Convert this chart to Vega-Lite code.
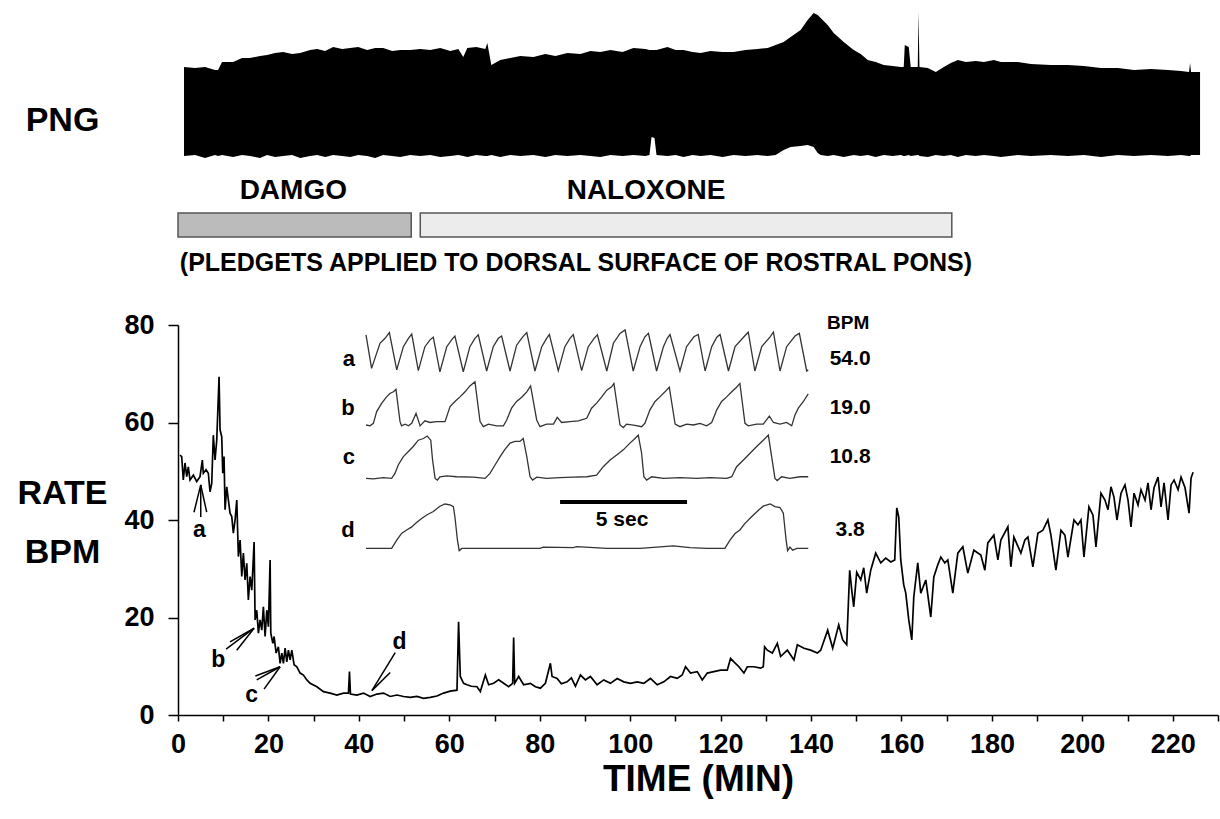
{
  "$schema": "https://vega.github.io/schema/vega-lite/v6.json",
  "padding": {"left": 16, "top": 10, "right": 2, "bottom": 2},
  "background": "white",
  "config": {
    "font": "Liberation Sans",
    "view": {"stroke": null},
    "axis": {"grid": false, "domainColor": "#000", "tickColor": "#000", "labelColor": "#000", "titleColor": "#000", "labelFont": "Liberation Sans", "titleFont": "Liberation Sans", "labelFontWeight": "bold", "titleFontWeight": "bold", "domainWidth": 1.5, "tickWidth": 1.5},
    "text": {"font": "Liberation Sans", "fontWeight": "bold", "color": "#000"}
  },
  "datasets": {
    "png": [
      {"t":1.33,"hi":9.3,"lo":0.4},{"t":3.76,"hi":9.2,"lo":0.5},{"t":5.98,"hi":9.3,"lo":0.2},{"t":8.19,"hi":9.0,"lo":0.5},{"t":8.86,"hi":9.0,"lo":0.4},{"t":9.74,"hi":9.8,"lo":0.5},{"t":12.18,"hi":9.8,"lo":0.3},{"t":14.17,"hi":10.2,"lo":0.5},{"t":15.94,"hi":10.2,"lo":0.4},{"t":18.15,"hi":10.4,"lo":0.2},{"t":19.70,"hi":10.5,"lo":0.5},{"t":21.47,"hi":10.7,"lo":0.3},{"t":23.24,"hi":10.8,"lo":0.4},{"t":25.24,"hi":10.6,"lo":0.5},{"t":27.01,"hi":10.7,"lo":0.2},{"t":29.22,"hi":11.0,"lo":0.4},{"t":30.77,"hi":11.1,"lo":0.5},{"t":32.54,"hi":10.9,"lo":0.3},{"t":34.31,"hi":11.3,"lo":0.5},{"t":36.31,"hi":11.1,"lo":0.4},{"t":38.08,"hi":11.2,"lo":0.3},{"t":39.85,"hi":11.3,"lo":0.5},{"t":41.84,"hi":11.0,"lo":0.4},{"t":43.61,"hi":11.2,"lo":0.2},{"t":45.38,"hi":11.2,"lo":0.5},{"t":47.38,"hi":10.9,"lo":0.4},{"t":49.15,"hi":11.0,"lo":0.3},{"t":51.36,"hi":11.0,"lo":0.5},{"t":53.58,"hi":11.1,"lo":0.4},{"t":55.79,"hi":11.0,"lo":0.5},{"t":58.00,"hi":11.2,"lo":0.3},{"t":60.22,"hi":10.9,"lo":0.4},{"t":61.99,"hi":11.1,"lo":0.5},{"t":63.09,"hi":10.3,"lo":0.4},{"t":63.98,"hi":11.2,"lo":0.3},{"t":65.97,"hi":11.3,"lo":0.5},{"t":67.97,"hi":11.1,"lo":0.4},{"t":68.41,"hi":11.7,"lo":0.4},{"t":69.29,"hi":9.5,"lo":0.5},{"t":71.29,"hi":10.0,"lo":0.3},{"t":73.50,"hi":10.2,"lo":0.5},{"t":75.71,"hi":10.4,"lo":0.4},{"t":78.59,"hi":10.3,"lo":0.5},{"t":81.25,"hi":10.6,"lo":0.3},{"t":83.46,"hi":10.4,"lo":0.5},{"t":86.12,"hi":10.7,"lo":0.4},{"t":89.00,"hi":10.6,"lo":0.5},{"t":91.21,"hi":10.9,"lo":0.4},{"t":93.42,"hi":10.8,"lo":0.3},{"t":95.64,"hi":11.0,"lo":0.5},{"t":98.30,"hi":10.8,"lo":0.4},{"t":100.73,"hi":11.2,"lo":0.5},{"t":103.39,"hi":11.1,"lo":0.4},{"t":104.27,"hi":11.0,"lo":0.5},{"t":104.72,"hi":11.0,"lo":2.3},{"t":105.38,"hi":11.0,"lo":2.2},{"t":105.82,"hi":11.0,"lo":0.5},{"t":108.26,"hi":11.3,"lo":0.4},{"t":110.03,"hi":11.0,"lo":0.5},{"t":111.80,"hi":11.0,"lo":0.3},{"t":113.79,"hi":10.8,"lo":0.5},{"t":115.56,"hi":10.7,"lo":0.4},{"t":117.78,"hi":10.9,"lo":0.5},{"t":120.43,"hi":10.8,"lo":0.3},{"t":122.87,"hi":10.8,"lo":0.5},{"t":125.53,"hi":11.0,"lo":0.4},{"t":128.18,"hi":11.1,"lo":0.5},{"t":130.40,"hi":11.2,"lo":0.4},{"t":132.17,"hi":11.5,"lo":0.5},{"t":133.94,"hi":11.8,"lo":1.0},{"t":135.49,"hi":12.3,"lo":1.3},{"t":137.70,"hi":13.0,"lo":1.4},{"t":139.25,"hi":14.0,"lo":1.5},{"t":140.58,"hi":14.7,"lo":1.3},{"t":141.47,"hi":14.5,"lo":0.7},{"t":142.13,"hi":14.2,"lo":0.5},{"t":143.68,"hi":13.5,"lo":0.4},{"t":145.01,"hi":12.7,"lo":0.5},{"t":147.22,"hi":11.8,"lo":0.3},{"t":149.44,"hi":11.0,"lo":0.5},{"t":150.99,"hi":10.6,"lo":0.4},{"t":152.54,"hi":10.0,"lo":0.5},{"t":154.30,"hi":9.8,"lo":0.3},{"t":156.08,"hi":9.5,"lo":0.5},{"t":158.07,"hi":9.4,"lo":0.4},{"t":159.84,"hi":9.3,"lo":0.5},{"t":160.50,"hi":9.3,"lo":0.4},{"t":160.73,"hi":11.5,"lo":0.4},{"t":161.61,"hi":11.3,"lo":0.5},{"t":162.05,"hi":9.3,"lo":0.4},{"t":163.60,"hi":9.3,"lo":0.5},{"t":163.76,"hi":14.8,"lo":0.5},{"t":163.98,"hi":9.3,"lo":0.4},{"t":165.82,"hi":9.2,"lo":0.3},{"t":167.59,"hi":8.8,"lo":0.5},{"t":169.36,"hi":9.3,"lo":0.4},{"t":170.91,"hi":9.7,"lo":0.5},{"t":172.46,"hi":10.0,"lo":0.3},{"t":174.23,"hi":9.8,"lo":0.5},{"t":176.45,"hi":9.9,"lo":0.4},{"t":178.22,"hi":9.8,"lo":0.5},{"t":180.43,"hi":10.0,"lo":0.4},{"t":181.98,"hi":9.8,"lo":0.3},{"t":185.74,"hi":9.8,"lo":0.5},{"t":188.62,"hi":9.6,"lo":0.4},{"t":193.05,"hi":9.5,"lo":0.5},{"t":196.81,"hi":9.5,"lo":0.4},{"t":200.35,"hi":9.4,"lo":0.5},{"t":204.12,"hi":9.2,"lo":0.3},{"t":207.88,"hi":9.2,"lo":0.5},{"t":211.42,"hi":9.0,"lo":0.4},{"t":215.19,"hi":9.1,"lo":0.5},{"t":218.95,"hi":9.0,"lo":0.4},{"t":221.83,"hi":8.9,"lo":0.5},{"t":223.60,"hi":8.8,"lo":0.4},{"t":223.82,"hi":9.7,"lo":0.4},{"t":224.04,"hi":8.8,"lo":0.5},{"t":226.03,"hi":8.8,"lo":0.5}
    ],
    "agents": [
      {"agent":"DAMGO","start":0,"end":51.58},
      {"agent":"NALOXONE","start":53.58,"end":171.13}
    ],
    "agentLabels": [
      {"text":"DAMGO","t":25.5},
      {"text":"NALOXONE","t":103.5}
    ],
    "note": [
      {"text":"(PLEDGETS APPLIED TO DORSAL SURFACE OF ROSTRAL PONS)","t":88.0}
    ],
    "rate": [
      {"t":0.44,"r":53.3},{"t":0.82,"r":53.0},{"t":1.17,"r":48.2},{"t":1.55,"r":51.7},{"t":1.93,"r":48.9},{"t":2.28,"r":50.9},{"t":2.66,"r":48.2},{"t":3.39,"r":49.2},{"t":4.14,"r":47.9},{"t":4.87,"r":48.9},{"t":5.38,"r":52.3},{"t":5.60,"r":49.6},{"t":6.20,"r":50.3},{"t":6.71,"r":49.6},{"t":7.08,"r":45.8},{"t":7.46,"r":47.5},{"t":7.81,"r":57.4},{"t":8.19,"r":52.3},{"t":8.57,"r":56.4},{"t":9.08,"r":69.4},{"t":9.30,"r":58.5},{"t":9.67,"r":57.1},{"t":9.90,"r":49.6},{"t":10.18,"r":53.0},{"t":10.41,"r":42.1},{"t":10.78,"r":46.8},{"t":11.14,"r":44.1},{"t":11.51,"r":41.4},{"t":11.89,"r":40.7},{"t":12.24,"r":37.3},{"t":12.62,"r":40.0},{"t":13.00,"r":44.1},{"t":13.35,"r":32.5},{"t":13.73,"r":35.9},{"t":14.10,"r":28.4},{"t":14.46,"r":33.2},{"t":14.83,"r":27.7},{"t":15.21,"r":31.1},{"t":15.56,"r":23.6},{"t":15.94,"r":28.4},{"t":16.32,"r":25.6},{"t":16.83,"r":35.5},{"t":17.05,"r":19.5},{"t":17.42,"r":21.5},{"t":17.78,"r":16.8},{"t":18.15,"r":19.5},{"t":18.53,"r":17.4},{"t":18.88,"r":22.2},{"t":19.26,"r":16.1},{"t":19.64,"r":21.5},{"t":19.99,"r":18.1},{"t":20.37,"r":31.8},{"t":20.52,"r":16.8},{"t":20.97,"r":14.7},{"t":21.25,"r":16.1},{"t":21.70,"r":12.7},{"t":22.20,"r":14.0},{"t":22.58,"r":10.6},{"t":22.96,"r":12.7},{"t":23.31,"r":10.6},{"t":23.69,"r":13.7},{"t":24.06,"r":10.9},{"t":24.42,"r":13.3},{"t":24.80,"r":11.3},{"t":25.17,"r":13.3},{"t":25.68,"r":10.3},{"t":26.28,"r":9.9},{"t":27.01,"r":8.6},{"t":27.74,"r":8.2},{"t":28.49,"r":7.2},{"t":29.22,"r":6.5},{"t":30.71,"r":5.8},{"t":32.17,"r":4.8},{"t":33.65,"r":4.5},{"t":35.13,"r":4.1},{"t":36.60,"r":4.5},{"t":37.70,"r":4.5},{"t":37.92,"r":8.9},{"t":38.14,"r":4.3},{"t":39.56,"r":4.1},{"t":41.02,"r":4.5},{"t":42.51,"r":3.8},{"t":43.99,"r":4.3},{"t":45.45,"r":4.5},{"t":46.93,"r":3.8},{"t":48.42,"r":4.1},{"t":49.88,"r":3.8},{"t":51.36,"r":3.6},{"t":52.84,"r":3.8},{"t":54.31,"r":3.4},{"t":55.79,"r":3.6},{"t":57.27,"r":3.9},{"t":58.73,"r":4.5},{"t":60.22,"r":4.9},{"t":61.70,"r":5.1},{"t":62.05,"r":19.1},{"t":62.43,"r":7.9},{"t":63.16,"r":6.5},{"t":63.91,"r":6.2},{"t":64.87,"r":5.9},{"t":66.13,"r":5.8},{"t":66.86,"r":4.8},{"t":67.97,"r":8.2},{"t":68.70,"r":6.2},{"t":69.80,"r":6.5},{"t":70.91,"r":7.2},{"t":72.02,"r":6.5},{"t":73.12,"r":5.8},{"t":74.01,"r":6.5},{"t":74.23,"r":15.9},{"t":74.45,"r":6.5},{"t":75.34,"r":7.9},{"t":76.44,"r":6.2},{"t":77.93,"r":6.5},{"t":79.04,"r":5.8},{"t":80.14,"r":5.5},{"t":81.25,"r":6.5},{"t":82.36,"r":10.6},{"t":82.73,"r":7.9},{"t":83.84,"r":7.5},{"t":84.79,"r":6.4},{"t":86.05,"r":6.8},{"t":87.0,"r":7.6},{"t":87.89,"r":5.9},{"t":89.00,"r":8.2},{"t":90.10,"r":7.2},{"t":91.21,"r":7.9},{"t":92.69,"r":6.2},{"t":94.16,"r":7.2},{"t":95.64,"r":6.5},{"t":97.12,"r":7.5},{"t":98.58,"r":6.8},{"t":100.07,"r":6.5},{"t":101.55,"r":6.8},{"t":103.01,"r":6.5},{"t":104.49,"r":7.5},{"t":105.98,"r":6.2},{"t":107.44,"r":6.8},{"t":108.92,"r":7.9},{"t":110.40,"r":7.5},{"t":111.51,"r":8.2},{"t":112.24,"r":9.9},{"t":113.35,"r":8.6},{"t":114.83,"r":8.9},{"t":115.94,"r":7.2},{"t":117.05,"r":8.6},{"t":118.51,"r":8.9},{"t":119.99,"r":9.2},{"t":121.47,"r":9.2},{"t":122.20,"r":11.6},{"t":122.94,"r":10.9},{"t":124.04,"r":9.9},{"t":125.15,"r":8.6},{"t":125.90,"r":9.9},{"t":127.36,"r":9.9},{"t":128.85,"r":9.6},{"t":129.44,"r":9.9},{"t":129.73,"r":14.0},{"t":130.33,"r":13.3},{"t":131.44,"r":12.7},{"t":132.54,"r":14.7},{"t":133.27,"r":12.0},{"t":134.76,"r":13.3},{"t":136.22,"r":11.3},{"t":136.97,"r":14.4},{"t":138.43,"r":13.7},{"t":139.92,"r":13.3},{"t":141.40,"r":12.7},{"t":142.13,"r":13.3},{"t":143.68,"r":17.4},{"t":144.79,"r":13.7},{"t":146.12,"r":18.5},{"t":147.00,"r":15.4},{"t":147.89,"r":14.4},{"t":148.55,"r":29.7},{"t":149.00,"r":25.6},{"t":149.44,"r":22.2},{"t":150.10,"r":29.3},{"t":150.99,"r":27.7},{"t":151.65,"r":30.2},{"t":152.31,"r":25.0},{"t":153.20,"r":29.7},{"t":154.30,"r":33.2},{"t":155.41,"r":31.2},{"t":156.52,"r":32.2},{"t":157.63,"r":31.4},{"t":158.51,"r":31.8},{"t":158.96,"r":42.5},{"t":159.40,"r":40.6},{"t":159.84,"r":31.8},{"t":160.50,"r":26.7},{"t":160.95,"r":25.0},{"t":161.61,"r":19.5},{"t":162.28,"r":15.4},{"t":162.72,"r":24.2},{"t":163.60,"r":31.2},{"t":164.27,"r":25.0},{"t":165.38,"r":27.7},{"t":166.48,"r":20.1},{"t":167.15,"r":28.3},{"t":168.03,"r":30.8},{"t":168.70,"r":32.4},{"t":169.58,"r":31.2},{"t":170.25,"r":31.8},{"t":171.35,"r":25.0},{"t":172.46,"r":33.2},{"t":173.57,"r":34.5},{"t":174.67,"r":29.1},{"t":176.00,"r":33.8},{"t":177.55,"r":32.8},{"t":178.44,"r":29.7},{"t":179.10,"r":35.3},{"t":180.43,"r":36.9},{"t":181.32,"r":31.8},{"t":181.98,"r":35.9},{"t":183.53,"r":38.6},{"t":184.19,"r":30.4},{"t":184.86,"r":36.5},{"t":186.41,"r":33.2},{"t":187.29,"r":35.9},{"t":187.96,"r":36.5},{"t":189.06,"r":30.4},{"t":190.17,"r":37.3},{"t":191.28,"r":37.9},{"t":192.38,"r":40.0},{"t":193.05,"r":36.9},{"t":194.15,"r":29.7},{"t":195.26,"r":37.9},{"t":196.15,"r":36.9},{"t":196.81,"r":32.4},{"t":198.14,"r":40.0},{"t":199.03,"r":39.0},{"t":199.69,"r":40.0},{"t":200.35,"r":32.4},{"t":201.46,"r":42.7},{"t":202.35,"r":41.0},{"t":203.01,"r":34.5},{"t":204.12,"r":45.5},{"t":205.00,"r":44.1},{"t":205.67,"r":42.1},{"t":206.33,"r":46.8},{"t":206.99,"r":44.7},{"t":207.66,"r":40.0},{"t":208.55,"r":45.5},{"t":209.43,"r":47.2},{"t":210.10,"r":44.1},{"t":210.76,"r":38.6},{"t":211.43,"r":45.5},{"t":212.31,"r":43.1},{"t":212.97,"r":46.2},{"t":213.86,"r":44.1},{"t":214.52,"r":47.6},{"t":215.19,"r":42.1},{"t":215.85,"r":46.6},{"t":216.74,"r":48.8},{"t":217.40,"r":42.7},{"t":218.07,"r":47.6},{"t":218.95,"r":40.0},{"t":219.62,"r":47.2},{"t":220.28,"r":48.2},{"t":221.17,"r":46.2},{"t":221.83,"r":48.8},{"t":222.71,"r":46.6},{"t":223.60,"r":41.4},{"t":224.04,"r":48.6},{"t":224.49,"r":49.8}
    ],
    "arrows": [
      {"t1":5.03,"r1":47.2,"t2":3.54,"r2":41.6},{"t1":5.03,"r1":47.2,"t2":5.03,"r2":40.6},{"t1":5.03,"r1":47.2,"t2":6.35,"r2":41.6},
      {"t1":16.83,"r1":17.8,"t2":10.63,"r2":13.5},{"t1":16.83,"r1":17.8,"t2":12.99,"r2":13.3},{"t1":16.83,"r1":17.8,"t2":11.5,"r2":15.0},
      {"t1":22.58,"r1":9.9,"t2":17.42,"r2":7.2},{"t1":22.58,"r1":9.9,"t2":19.04,"r2":5.3},{"t1":22.58,"r1":9.9,"t2":17.12,"r2":8.0},
      {"t1":42.88,"r1":5.0,"t2":48.04,"r2":12.8},{"t1":42.88,"r1":5.0,"t2":46.93,"r2":8.7}
    ],
    "letters": [
      {"t":4.72,"r":37.9,"label":"a"},{"t":8.93,"r":11.3,"label":"b"},{"t":16.3,"r":4.1,"label":"c"},{"t":49.0,"r":15.0,"label":"d"}
    ],
    "waves": [
      {"trace":"a","s":0,"v":0.95},{"trace":"a","s":0.22,"v":0.07},{"trace":"a","s":0.55,"v":0.73},{"trace":"a","s":0.75,"v":0.86},{"trace":"a","s":0.92,"v":1.01},{"trace":"a","s":1.21,"v":0.03},{"trace":"a","s":1.47,"v":0.64},{"trace":"a","s":1.67,"v":0.86},{"trace":"a","s":1.80,"v":0.97},{"trace":"a","s":2.06,"v":0.01},{"trace":"a","s":2.32,"v":0.64},{"trace":"a","s":2.52,"v":0.82},{"trace":"a","s":2.65,"v":0.89},{"trace":"a","s":2.91,"v":-0.02},{"trace":"a","s":3.18,"v":0.64},{"trace":"a","s":3.37,"v":0.82},{"trace":"a","s":3.50,"v":0.92},{"trace":"a","s":3.83,"v":-0.02},{"trace":"a","s":4.09,"v":0.64},{"trace":"a","s":4.29,"v":0.86},{"trace":"a","s":4.42,"v":0.95},{"trace":"a","s":4.75,"v":0},{"trace":"a","s":5.01,"v":0.64},{"trace":"a","s":5.21,"v":0.86},{"trace":"a","s":5.34,"v":0.92},{"trace":"a","s":5.67,"v":0},{"trace":"a","s":5.93,"v":0.68},{"trace":"a","s":6.17,"v":0.90},{"trace":"a","s":6.33,"v":1.01},{"trace":"a","s":6.65,"v":0},{"trace":"a","s":6.92,"v":0.64},{"trace":"a","s":7.11,"v":0.86},{"trace":"a","s":7.22,"v":0.96},{"trace":"a","s":7.57,"v":0.01},{"trace":"a","s":7.83,"v":0.64},{"trace":"a","s":8.03,"v":0.86},{"trace":"a","s":8.16,"v":0.96},{"trace":"a","s":8.49,"v":0.01},{"trace":"a","s":8.75,"v":0.64},{"trace":"a","s":8.98,"v":0.86},{"trace":"a","s":9.11,"v":0.95},{"trace":"a","s":9.48,"v":0},{"trace":"a","s":9.74,"v":0.73},{"trace":"a","s":10.0,"v":0.99},{"trace":"a","s":10.20,"v":1.08},{"trace":"a","s":10.52,"v":0},{"trace":"a","s":10.79,"v":0.64},{"trace":"a","s":10.98,"v":0.90},{"trace":"a","s":11.12,"v":0.99},{"trace":"a","s":11.44,"v":0},{"trace":"a","s":11.71,"v":0.64},{"trace":"a","s":11.86,"v":0.86},{"trace":"a","s":11.97,"v":0.96},{"trace":"a","s":12.36,"v":0},{"trace":"a","s":12.62,"v":0.64},{"trace":"a","s":12.91,"v":0.90},{"trace":"a","s":13.08,"v":0.96},{"trace":"a","s":13.35,"v":0},{"trace":"a","s":13.61,"v":0.64},{"trace":"a","s":13.81,"v":0.89},{"trace":"a","s":13.94,"v":0.96},{"trace":"a","s":14.27,"v":0},{"trace":"a","s":14.53,"v":0.64},{"trace":"a","s":14.88,"v":0.90},{"trace":"a","s":15.05,"v":1.02},{"trace":"a","s":15.31,"v":0},{"trace":"a","s":15.58,"v":0.64},{"trace":"a","s":15.91,"v":0.90},{"trace":"a","s":16.04,"v":1.02},{"trace":"a","s":16.30,"v":0},{"trace":"a","s":16.56,"v":0.64},{"trace":"a","s":16.89,"v":0.92},{"trace":"a","s":17.06,"v":0.99},{"trace":"a","s":17.35,"v":0},{"trace":"a","s":17.41,"v":0.03},
      {"trace":"b","s":0,"v":0},{"trace":"b","s":0.16,"v":-0.02},{"trace":"b","s":0.29,"v":0.04},{"trace":"b","s":0.42,"v":0.32},{"trace":"b","s":0.62,"v":0.52},{"trace":"b","s":0.81,"v":0.67},{"trace":"b","s":0.94,"v":0.75},{"trace":"b","s":1.08,"v":0.79},{"trace":"b","s":1.18,"v":0.85},{"trace":"b","s":1.34,"v":0.08},{"trace":"b","s":1.40,"v":-0.02},{"trace":"b","s":1.54,"v":0.02},{"trace":"b","s":1.67,"v":-0.02},{"trace":"b","s":1.80,"v":0.04},{"trace":"b","s":1.97,"v":0.28},{"trace":"b","s":2.13,"v":-0.02},{"trace":"b","s":2.32,"v":0.10},{"trace":"b","s":2.52,"v":0.06},{"trace":"b","s":2.78,"v":0.08},{"trace":"b","s":3.11,"v":0.08},{"trace":"b","s":3.31,"v":0.44},{"trace":"b","s":3.50,"v":0.56},{"trace":"b","s":3.70,"v":0.67},{"trace":"b","s":3.90,"v":0.79},{"trace":"b","s":4.09,"v":0.93},{"trace":"b","s":4.29,"v":1.03},{"trace":"b","s":4.49,"v":0.08},{"trace":"b","s":4.62,"v":-0.04},{"trace":"b","s":4.82,"v":0.02},{"trace":"b","s":5.14,"v":-0.02},{"trace":"b","s":5.41,"v":-0.02},{"trace":"b","s":5.54,"v":0.12},{"trace":"b","s":5.73,"v":0.40},{"trace":"b","s":5.93,"v":0.56},{"trace":"b","s":6.13,"v":0.66},{"trace":"b","s":6.33,"v":0.79},{"trace":"b","s":6.48,"v":0.93},{"trace":"b","s":6.72,"v":0.12},{"trace":"b","s":6.85,"v":-0.04},{"trace":"b","s":7.11,"v":0.02},{"trace":"b","s":7.38,"v":0.02},{"trace":"b","s":7.53,"v":0.18},{"trace":"b","s":7.70,"v":0.06},{"trace":"b","s":8.03,"v":0.08},{"trace":"b","s":8.36,"v":0.10},{"trace":"b","s":8.69,"v":0.16},{"trace":"b","s":8.88,"v":0.40},{"trace":"b","s":9.08,"v":0.52},{"trace":"b","s":9.28,"v":0.67},{"trace":"b","s":9.48,"v":0.83},{"trace":"b","s":9.67,"v":0.91},{"trace":"b","s":9.76,"v":0.99},{"trace":"b","s":10.0,"v":0},{"trace":"b","s":10.13,"v":-0.06},{"trace":"b","s":10.26,"v":0.02},{"trace":"b","s":10.59,"v":-0.01},{"trace":"b","s":10.85,"v":-0.04},{"trace":"b","s":10.98,"v":0.04},{"trace":"b","s":11.18,"v":0.36},{"trace":"b","s":11.38,"v":0.56},{"trace":"b","s":11.57,"v":0.67},{"trace":"b","s":11.77,"v":0.79},{"trace":"b","s":11.94,"v":0.90},{"trace":"b","s":12.17,"v":0.02},{"trace":"b","s":12.36,"v":-0.04},{"trace":"b","s":12.62,"v":0.02},{"trace":"b","s":12.89,"v":0},{"trace":"b","s":13.15,"v":0.04},{"trace":"b","s":13.41,"v":-0.02},{"trace":"b","s":13.61,"v":0.06},{"trace":"b","s":13.81,"v":0.36},{"trace":"b","s":14.00,"v":0.56},{"trace":"b","s":14.20,"v":0.67},{"trace":"b","s":14.40,"v":0.79},{"trace":"b","s":14.59,"v":0.90},{"trace":"b","s":14.72,"v":0.99},{"trace":"b","s":14.92,"v":0.04},{"trace":"b","s":15.05,"v":-0.02},{"trace":"b","s":15.38,"v":0.02},{"trace":"b","s":15.64,"v":0.02},{"trace":"b","s":15.88,"v":0.21},{"trace":"b","s":16.04,"v":0.06},{"trace":"b","s":16.30,"v":0.02},{"trace":"b","s":16.56,"v":0.06},{"trace":"b","s":16.76,"v":-0.02},{"trace":"b","s":16.89,"v":0.24},{"trace":"b","s":17.02,"v":0.40},{"trace":"b","s":17.22,"v":0.56},{"trace":"b","s":17.41,"v":0.74},
      {"trace":"c","s":0,"v":-0.01},{"trace":"c","s":0.29,"v":-0.02},{"trace":"c","s":0.68,"v":0.01},{"trace":"c","s":1.01,"v":-0.01},{"trace":"c","s":1.14,"v":0.11},{"trace":"c","s":1.27,"v":0.31},{"trace":"c","s":1.47,"v":0.51},{"trace":"c","s":1.67,"v":0.63},{"trace":"c","s":1.86,"v":0.75},{"trace":"c","s":2.06,"v":0.90},{"trace":"c","s":2.26,"v":0.94},{"trace":"c","s":2.41,"v":1.0},{"trace":"c","s":2.55,"v":0.90},{"trace":"c","s":2.62,"v":0.43},{"trace":"c","s":2.72,"v":-0.01},{"trace":"c","s":2.81,"v":-0.05},{"trace":"c","s":2.91,"v":0.03},{"trace":"c","s":3.18,"v":0.05},{"trace":"c","s":3.57,"v":0.03},{"trace":"c","s":4.23,"v":0.02},{"trace":"c","s":4.69,"v":-0.01},{"trace":"c","s":4.88,"v":0.11},{"trace":"c","s":5.08,"v":0.31},{"trace":"c","s":5.28,"v":0.51},{"trace":"c","s":5.47,"v":0.68},{"trace":"c","s":5.67,"v":0.83},{"trace":"c","s":5.87,"v":0.87},{"trace":"c","s":6.06,"v":0.87},{"trace":"c","s":6.19,"v":0.94},{"trace":"c","s":6.33,"v":0.51},{"trace":"c","s":6.46,"v":0.03},{"trace":"c","s":6.56,"v":-0.05},{"trace":"c","s":6.72,"v":0.02},{"trace":"c","s":7.11,"v":-0.01},{"trace":"c","s":7.64,"v":0.01},{"trace":"c","s":8.16,"v":0.02},{"trace":"c","s":8.69,"v":0.03},{"trace":"c","s":9.08,"v":0.07},{"trace":"c","s":9.34,"v":0.27},{"trace":"c","s":9.61,"v":0.43},{"trace":"c","s":9.87,"v":0.55},{"trace":"c","s":10.13,"v":0.67},{"trace":"c","s":10.39,"v":0.83},{"trace":"c","s":10.59,"v":0.94},{"trace":"c","s":10.72,"v":1.02},{"trace":"c","s":10.85,"v":0.59},{"trace":"c","s":10.94,"v":0.03},{"trace":"c","s":11.05,"v":-0.05},{"trace":"c","s":11.25,"v":0.03},{"trace":"c","s":11.71,"v":-0.01},{"trace":"c","s":12.36,"v":0.01},{"trace":"c","s":13.02,"v":-0.01},{"trace":"c","s":13.54,"v":0.01},{"trace":"c","s":14.20,"v":-0.01},{"trace":"c","s":14.40,"v":0.03},{"trace":"c","s":14.59,"v":0.27},{"trace":"c","s":14.86,"v":0.43},{"trace":"c","s":15.12,"v":0.59},{"trace":"c","s":15.38,"v":0.75},{"trace":"c","s":15.64,"v":0.90},{"trace":"c","s":15.84,"v":1.02},{"trace":"c","s":15.97,"v":0.51},{"trace":"c","s":16.10,"v":-0.01},{"trace":"c","s":16.19,"v":-0.06},{"trace":"c","s":16.36,"v":0.03},{"trace":"c","s":16.69,"v":-0.01},{"trace":"c","s":17.09,"v":0.03},{"trace":"c","s":17.41,"v":0.03},
      {"trace":"d","s":0,"v":-0.01},{"trace":"d","s":0.55,"v":-0.01},{"trace":"d","s":1.01,"v":-0.01},{"trace":"d","s":1.21,"v":0.18},{"trace":"d","s":1.40,"v":0.33},{"trace":"d","s":1.60,"v":0.41},{"trace":"d","s":1.80,"v":0.48},{"trace":"d","s":1.99,"v":0.58},{"trace":"d","s":2.19,"v":0.67},{"trace":"d","s":2.39,"v":0.75},{"trace":"d","s":2.65,"v":0.83},{"trace":"d","s":2.91,"v":0.95},{"trace":"d","s":3.11,"v":1.0},{"trace":"d","s":3.31,"v":0.98},{"trace":"d","s":3.44,"v":0.94},{"trace":"d","s":3.50,"v":0.71},{"trace":"d","s":3.60,"v":0.18},{"trace":"d","s":3.67,"v":-0.06},{"trace":"d","s":3.77,"v":-0.01},{"trace":"d","s":4.23,"v":-0.01},{"trace":"d","s":5.54,"v":-0.01},{"trace":"d","s":6.85,"v":-0.01},{"trace":"d","s":6.98,"v":0.02},{"trace":"d","s":8.16,"v":0.01},{"trace":"d","s":8.29,"v":0.03},{"trace":"d","s":9.48,"v":-0.01},{"trace":"d","s":10.79,"v":-0.01},{"trace":"d","s":12.10,"v":0.05},{"trace":"d","s":12.76,"v":0.01},{"trace":"d","s":13.41,"v":-0.01},{"trace":"d","s":14.13,"v":-0.01},{"trace":"d","s":14.33,"v":0.18},{"trace":"d","s":14.53,"v":0.33},{"trace":"d","s":14.72,"v":0.41},{"trace":"d","s":14.92,"v":0.56},{"trace":"d","s":15.18,"v":0.71},{"trace":"d","s":15.45,"v":0.86},{"trace":"d","s":15.64,"v":0.95},{"trace":"d","s":15.91,"v":1.0},{"trace":"d","s":16.10,"v":0.94},{"trace":"d","s":16.30,"v":0.92},{"trace":"d","s":16.43,"v":0.79},{"trace":"d","s":16.54,"v":0.18},{"trace":"d","s":16.60,"v":-0.06},{"trace":"d","s":16.69,"v":0.02},{"trace":"d","s":16.80,"v":-0.05},{"trace":"d","s":16.96,"v":-0.01},{"trace":"d","s":17.41,"v":-0.01}
    ],
    "insetText": [
      {"trace":"a","kind":"letter","s":-0.67,"v":0.32,"text":"a"},
      {"trace":"a","kind":"value","s":19.06,"v":0.32,"text":"54.0"},
      {"trace":"a","kind":"header","s":18.98,"v":1.26,"text":"BPM"},
      {"trace":"b","kind":"letter","s":-0.71,"v":0.40,"text":"b"},
      {"trace":"b","kind":"value","s":19.06,"v":0.40,"text":"19.0"},
      {"trace":"c","kind":"letter","s":-0.67,"v":0.50,"text":"c"},
      {"trace":"c","kind":"value","s":19.06,"v":0.50,"text":"10.8"},
      {"trace":"d","kind":"letter","s":-0.71,"v":0.41,"text":"d"},
      {"trace":"d","kind":"value","s":19.06,"v":0.41,"text":"3.8"},
      {"trace":"d","kind":"scale","s":10.08,"v":0.64,"text":"5 sec"}
    ],
    "scalebar": [
      {"s1":7.64,"s2":12.64,"v":1.045}
    ]
  },
  "vconcat": [
    {
      "width": 1040,
      "height": 115,
      "data": {"name": "png"},
      "mark": {"type": "area", "color": "#000", "interpolate": "linear", "clip": false},
      "encoding": {
        "x": {"field": "t", "type": "quantitative", "scale": {"domain": [0, 230], "nice": false, "zero": false}, "axis": null},
        "y": {"field": "hi", "type": "quantitative", "scale": {"domain": [3.5, 15], "nice": false, "zero": false},
              "axis": {"title": "PNG", "domain": false, "ticks": false, "labels": false, "titleAngle": 0, "titleAlign": "center", "titleBaseline": "middle", "titleX": -116, "titleY": 110, "titleFontSize": 34}},
        "y2": {"field": "lo"}
      }
    },
    {
      "width": 1040,
      "height": 24,
      "layer": [
        {
          "data": {"name": "agents"},
          "mark": {"type": "rect", "stroke": "#555", "strokeWidth": 1.5},
          "encoding": {
            "x": {"field": "start", "type": "quantitative", "scale": {"domain": [0, 230], "nice": false, "zero": false}, "axis": null},
            "x2": {"field": "end"},
            "color": {"field": "agent", "type": "nominal", "scale": {"domain": ["DAMGO", "NALOXONE"], "range": ["#bbbbbb", "#ececec"]}, "legend": null}
          }
        },
        {
          "data": {"name": "agentLabels"},
          "mark": {"type": "text", "fontSize": 28, "fontWeight": "bold", "baseline": "middle", "dy": -34},
          "encoding": {
            "x": {"field": "t", "type": "quantitative", "scale": {"domain": [0, 230], "nice": false, "zero": false}, "axis": null},
            "text": {"field": "text"}
          }
        },
        {
          "data": {"name": "note"},
          "mark": {"type": "text", "fontSize": 25, "fontWeight": "bold", "baseline": "middle", "dy": 38},
          "encoding": {
            "x": {"field": "t", "type": "quantitative", "scale": {"domain": [0, 230], "nice": false, "zero": false}, "axis": null},
            "text": {"field": "text"}
          }
        }
      ]
    },
    {
      "width": 1040,
      "height": 390,
      "layer": [
        {
          "layer": [
            {
              "data": {"name": "rate"},
              "mark": {"type": "line", "color": "#000", "strokeWidth": 1.7},
              "encoding": {
                "x": {"field": "t", "type": "quantitative", "scale": {"domain": [0, 230], "nice": false, "zero": false},
                      "axis": {"title": "TIME (MIN)", "values": [0,10,20,30,40,50,60,70,80,90,100,110,120,130,140,150,160,170,180,190,200,210,220,230], "labelExpr": "datum.value % 20 == 0 ? datum.label : ''", "labelFontSize": 27, "labelPadding": 10, "tickSize": 6, "labelFlush": false, "labelOverlap": false, "titleFontSize": 37, "titlePadding": 4}},
                "y": {"field": "r", "type": "quantitative", "scale": {"domain": [0, 80], "nice": false, "zero": false},
                      "axis": {"title": ["RATE", "BPM"], "values": [0, 20, 40, 60, 80], "format": "d", "labelFontSize": 27, "tickSize": 10, "labelPadding": 14, "titleAngle": 0, "titleAlign": "center", "titleBaseline": "middle", "titleX": -116, "titleY": 168, "titleFontSize": 34, "titleLineHeight": 59}}
              }
            },
            {
              "data": {"name": "arrows"},
              "mark": {"type": "rule", "color": "#000", "strokeWidth": 1.5},
              "encoding": {
                "x": {"field": "t1", "type": "quantitative", "title": "TIME (MIN)", "scale": {"domain": [0, 230], "nice": false, "zero": false}},
                "y": {"field": "r1", "type": "quantitative", "title": ["RATE", "BPM"], "scale": {"domain": [0, 80], "nice": false, "zero": false}},
                "x2": {"field": "t2"},
                "y2": {"field": "r2"}
              }
            },
            {
              "data": {"name": "letters"},
              "mark": {"type": "text", "fontSize": 23, "fontWeight": "bold", "baseline": "middle"},
              "encoding": {
                "x": {"field": "t", "type": "quantitative", "title": "TIME (MIN)", "scale": {"domain": [0, 230], "nice": false, "zero": false}},
                "y": {"field": "r", "type": "quantitative", "title": ["RATE", "BPM"], "scale": {"domain": [0, 80], "nice": false, "zero": false}},
                "text": {"field": "label"}
              }
            }
          ]
        },
        {
          "layer": [
            {
              "data": {"name": "waves"},
              "transform": [{"filter": "datum.trace == 'a'"}],
              "mark": {"type": "line", "color": "#333", "strokeWidth": 1.3},
              "encoding": {
                "x": {"field": "s", "type": "quantitative", "scale": {"domain": [-7.4016, 33.543], "nice": false, "zero": false}, "axis": null},
                "y": {"field": "v", "type": "quantitative", "scale": {"domain": [-9.0526, 1.2105], "nice": false, "zero": false}, "axis": null}
              }
            },
            {
              "data": {"name": "insetText"},
              "transform": [{"filter": "datum.trace == 'a' && datum.kind == 'letter'"}],
              "mark": {"type": "text", "fontSize": 22, "fontWeight": "bold", "baseline": "middle"},
              "encoding": {
                "x": {"field": "s", "type": "quantitative", "scale": {"domain": [-7.4016, 33.543], "nice": false, "zero": false}, "axis": null},
                "y": {"field": "v", "type": "quantitative", "scale": {"domain": [-9.0526, 1.2105], "nice": false, "zero": false}, "axis": null},
                "text": {"field": "text"}
              }
            },
            {
              "data": {"name": "insetText"},
              "transform": [{"filter": "datum.trace == 'a' && datum.kind == 'value'"}],
              "mark": {"type": "text", "fontSize": 21, "fontWeight": "bold", "baseline": "middle"},
              "encoding": {
                "x": {"field": "s", "type": "quantitative", "scale": {"domain": [-7.4016, 33.543], "nice": false, "zero": false}, "axis": null},
                "y": {"field": "v", "type": "quantitative", "scale": {"domain": [-9.0526, 1.2105], "nice": false, "zero": false}, "axis": null},
                "text": {"field": "text"}
              }
            },
            {
              "data": {"name": "insetText"},
              "transform": [{"filter": "datum.trace == 'a' && datum.kind == 'header'"}],
              "mark": {"type": "text", "fontSize": 19, "fontWeight": "bold", "baseline": "middle"},
              "encoding": {
                "x": {"field": "s", "type": "quantitative", "scale": {"domain": [-7.4016, 33.543], "nice": false, "zero": false}, "axis": null},
                "y": {"field": "v", "type": "quantitative", "scale": {"domain": [-9.0526, 1.2105], "nice": false, "zero": false}, "axis": null},
                "text": {"field": "text"}
              }
            }
          ]
        },
        {
          "layer": [
            {
              "data": {"name": "waves"},
              "transform": [{"filter": "datum.trace == 'b'"}],
              "mark": {"type": "line", "color": "#333", "strokeWidth": 1.3},
              "encoding": {
                "x": {"field": "s", "type": "quantitative", "scale": {"domain": [-7.4016, 33.543], "nice": false, "zero": false}, "axis": null},
                "y": {"field": "v", "type": "quantitative", "scale": {"domain": [-6.905, 2.381], "nice": false, "zero": false}, "axis": null}
              }
            },
            {
              "data": {"name": "insetText"},
              "transform": [{"filter": "datum.trace == 'b' && datum.kind == 'letter'"}],
              "mark": {"type": "text", "fontSize": 22, "fontWeight": "bold", "baseline": "middle"},
              "encoding": {
                "x": {"field": "s", "type": "quantitative", "scale": {"domain": [-7.4016, 33.543], "nice": false, "zero": false}, "axis": null},
                "y": {"field": "v", "type": "quantitative", "scale": {"domain": [-6.905, 2.381], "nice": false, "zero": false}, "axis": null},
                "text": {"field": "text"}
              }
            },
            {
              "data": {"name": "insetText"},
              "transform": [{"filter": "datum.trace == 'b' && datum.kind == 'value'"}],
              "mark": {"type": "text", "fontSize": 21, "fontWeight": "bold", "baseline": "middle"},
              "encoding": {
                "x": {"field": "s", "type": "quantitative", "scale": {"domain": [-7.4016, 33.543], "nice": false, "zero": false}, "axis": null},
                "y": {"field": "v", "type": "quantitative", "scale": {"domain": [-6.905, 2.381], "nice": false, "zero": false}, "axis": null},
                "text": {"field": "text"}
              }
            }
          ]
        },
        {
          "layer": [
            {
              "data": {"name": "waves"},
              "transform": [{"filter": "datum.trace == 'c'"}],
              "mark": {"type": "line", "color": "#333", "strokeWidth": 1.3},
              "encoding": {
                "x": {"field": "s", "type": "quantitative", "scale": {"domain": [-7.4016, 33.543], "nice": false, "zero": false}, "axis": null},
                "y": {"field": "v", "type": "quantitative", "scale": {"domain": [-5.643, 3.643], "nice": false, "zero": false}, "axis": null}
              }
            },
            {
              "data": {"name": "insetText"},
              "transform": [{"filter": "datum.trace == 'c' && datum.kind == 'letter'"}],
              "mark": {"type": "text", "fontSize": 22, "fontWeight": "bold", "baseline": "middle"},
              "encoding": {
                "x": {"field": "s", "type": "quantitative", "scale": {"domain": [-7.4016, 33.543], "nice": false, "zero": false}, "axis": null},
                "y": {"field": "v", "type": "quantitative", "scale": {"domain": [-5.643, 3.643], "nice": false, "zero": false}, "axis": null},
                "text": {"field": "text"}
              }
            },
            {
              "data": {"name": "insetText"},
              "transform": [{"filter": "datum.trace == 'c' && datum.kind == 'value'"}],
              "mark": {"type": "text", "fontSize": 21, "fontWeight": "bold", "baseline": "middle"},
              "encoding": {
                "x": {"field": "s", "type": "quantitative", "scale": {"domain": [-7.4016, 33.543], "nice": false, "zero": false}, "axis": null},
                "y": {"field": "v", "type": "quantitative", "scale": {"domain": [-5.643, 3.643], "nice": false, "zero": false}, "axis": null},
                "text": {"field": "text"}
              }
            }
          ]
        },
        {
          "layer": [
            {
              "data": {"name": "waves"},
              "transform": [{"filter": "datum.trace == 'd'"}],
              "mark": {"type": "line", "color": "#333", "strokeWidth": 1.3},
              "encoding": {
                "x": {"field": "s", "type": "quantitative", "scale": {"domain": [-7.4016, 33.543], "nice": false, "zero": false}, "axis": null},
                "y": {"field": "v", "type": "quantitative", "scale": {"domain": [-3.795, 5.068], "nice": false, "zero": false}, "axis": null}
              }
            },
            {
              "data": {"name": "insetText"},
              "transform": [{"filter": "datum.trace == 'd' && datum.kind == 'letter'"}],
              "mark": {"type": "text", "fontSize": 22, "fontWeight": "bold", "baseline": "middle"},
              "encoding": {
                "x": {"field": "s", "type": "quantitative", "scale": {"domain": [-7.4016, 33.543], "nice": false, "zero": false}, "axis": null},
                "y": {"field": "v", "type": "quantitative", "scale": {"domain": [-3.795, 5.068], "nice": false, "zero": false}, "axis": null},
                "text": {"field": "text"}
              }
            },
            {
              "data": {"name": "insetText"},
              "transform": [{"filter": "datum.trace == 'd' && (datum.kind == 'value' || datum.kind == 'scale')"}],
              "mark": {"type": "text", "fontSize": 21, "fontWeight": "bold", "baseline": "middle"},
              "encoding": {
                "x": {"field": "s", "type": "quantitative", "scale": {"domain": [-7.4016, 33.543], "nice": false, "zero": false}, "axis": null},
                "y": {"field": "v", "type": "quantitative", "scale": {"domain": [-3.795, 5.068], "nice": false, "zero": false}, "axis": null},
                "text": {"field": "text"}
              }
            },
            {
              "data": {"name": "scalebar"},
              "mark": {"type": "rule", "color": "#000", "strokeWidth": 4},
              "encoding": {
                "x": {"field": "s1", "type": "quantitative", "scale": {"domain": [-7.4016, 33.543], "nice": false, "zero": false}, "axis": null},
                "x2": {"field": "s2"},
                "y": {"field": "v", "type": "quantitative", "scale": {"domain": [-3.795, 5.068], "nice": false, "zero": false}, "axis": null}
              }
            }
          ]
        }
      ],
      "resolve": {"scale": {"x": "independent", "y": "independent"}}
    }
  ],
  "spacing": 88,
  "bounds": "flush",
  "resolve": {"scale": {"x": "independent", "y": "independent"}}
}
